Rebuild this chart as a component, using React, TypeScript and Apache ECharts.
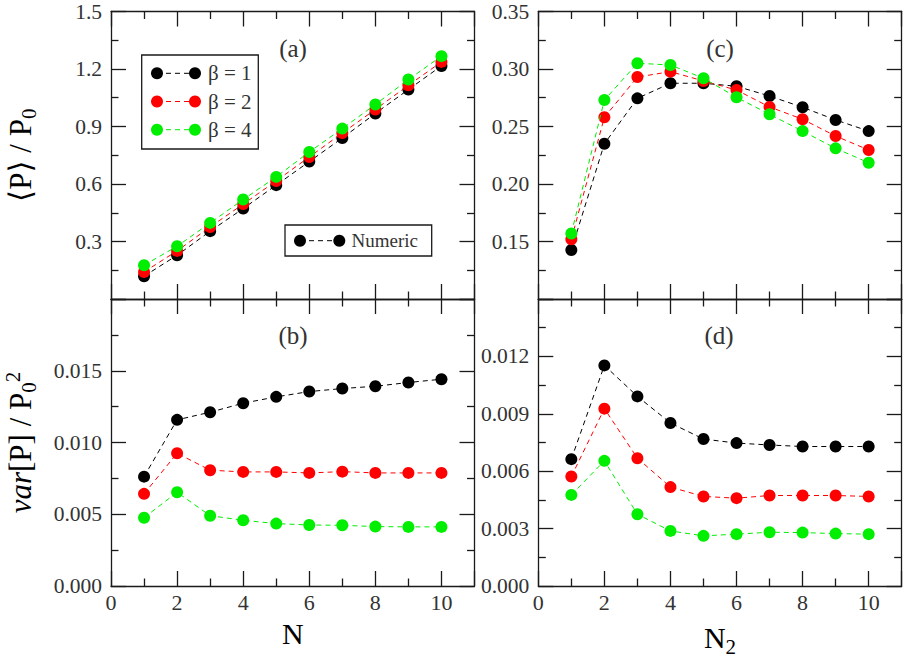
import React, { useEffect, useRef } from 'react';
import * as echarts from 'echarts';

const FONT = 'Liberation Serif, DejaVu Serif, serif';

// x values
const N = [1, 2, 3, 4, 5, 6, 7, 8, 9, 10];

// (a) <P>/P0 vs N
const meanB1 = [0.119, 0.228, 0.354, 0.472, 0.594, 0.717, 0.840, 0.968, 1.093, 1.216];
const meanB2 = [0.141, 0.251, 0.376, 0.495, 0.616, 0.741, 0.866, 0.989, 1.115, 1.237];
const meanB4 = [0.176, 0.275, 0.397, 0.519, 0.637, 0.767, 0.889, 1.015, 1.145, 1.267];

// (b) var[P]/P0^2 vs N
const varB1 = [0.00762, 0.01158, 0.01211, 0.01274, 0.01318, 0.01355, 0.01376, 0.01392, 0.01418, 0.01441];
const varB2 = [0.00642, 0.00925, 0.00807, 0.00795, 0.00795, 0.00788, 0.00797, 0.00788, 0.00788, 0.00788];
const varB4 = [0.00476, 0.00653, 0.00490, 0.00458, 0.00435, 0.00425, 0.00423, 0.00414, 0.00412, 0.00412];

// (c) <P>/P0 vs N2
const mean2B1 = [0.1426, 0.235, 0.2745, 0.2876, 0.2876, 0.285, 0.2765, 0.2667, 0.2557, 0.246];
const mean2B2 = [0.152, 0.258, 0.293, 0.2977, 0.2896, 0.2817, 0.267, 0.2563, 0.2417, 0.2296];
const mean2B4 = [0.157, 0.273, 0.305, 0.3035, 0.292, 0.2754, 0.2606, 0.246, 0.231, 0.2185];

// (d) var[P]/P0^2 vs N2
const var2B1 = [0.00663, 0.01153, 0.00991, 0.00852, 0.00768, 0.00747, 0.00737, 0.00729, 0.00729, 0.00729];
const var2B2 = [0.00572, 0.00927, 0.00668, 0.00517, 0.00468, 0.00459, 0.00473, 0.00473, 0.00473, 0.00468];
const var2B4 = [0.00476, 0.00654, 0.00375, 0.00288, 0.00262, 0.00271, 0.00281, 0.00279, 0.00274, 0.00271];

const betaLabels = ['β = 1', 'β = 2', 'β = 4'];
const colors = ['#000000', '#ff0000', '#00ee00'];
const panelLabels = ['(a)', '(b)', '(c)', '(d)'];

const AXIS_COLOR = '#1a1a1a';
const LABEL_COLOR = '#333';

const grids = [
  { left: 111, top: 11.5, width: 363.5, height: 287.5 },
  { left: 111, top: 299, width: 363.5, height: 287 },
  { left: 538.3, top: 11.5, width: 363.4, height: 287.5 },
  { left: 538.3, top: 299, width: 363.4, height: 287 },
];

const yRanges = [
  { min: 0, max: 1.5, interval: 0.3, dec: 1, hideMin: true },
  { min: 0, max: 0.02, interval: 0.005, dec: 3, hideMin: false },
  { min: 0.1, max: 0.35, interval: 0.05, dec: 2, hideMin: true },
  { min: 0, max: 0.015, interval: 0.003, dec: 3, hideMin: false },
];

const panelData = [
  [meanB1, meanB2, meanB4],
  [varB1, varB2, varB4],
  [mean2B1, mean2B2, mean2B4],
  [var2B1, var2B2, var2B4],
];

function buildOption() {
  const lineStyle = { color: AXIS_COLOR, width: 1.3 };
  const xAxis: any[] = [];
  const yAxis: any[] = [];
  grids.forEach((_, g) => {
    const showXLabels = g === 1 || g === 3;
    const baseX = {
      gridIndex: g,
      type: 'value',
      min: 0,
      max: 11,
      interval: 2,
      axisLine: { show: true, onZero: false, lineStyle },
      axisTick: { show: true, inside: true, length: 15, lineStyle },
      minorTick: { show: true, splitNumber: 2, length: 7.5, lineStyle },
      splitLine: { show: false },
      minorSplitLine: { show: false },
    };
    xAxis.push({
      ...baseX,
      position: 'bottom',
      axisLabel: {
        show: showXLabels,
        showMaxLabel: false,
        fontFamily: FONT,
        fontSize: 22,
        color: LABEL_COLOR,
        margin: 5,
      },
      name: g === 1 ? 'N' : g === 3 ? '{a|N}{sub|2}' : '',
      nameLocation: 'middle',
      nameGap: 32,
      nameTextStyle: {
        fontFamily: FONT,
        fontSize: 30,
        color: '#000',
        rich: {
          a: { fontFamily: FONT, fontSize: 30, color: '#000' },
          sub: { fontFamily: FONT, fontSize: 21, color: '#000', padding: [18, 0, 0, 0] },
        },
      },
    });
    xAxis.push({ ...baseX, position: 'top', axisLabel: { show: false } });

    const r = yRanges[g];
    const baseY = {
      gridIndex: g,
      type: 'value',
      min: r.min,
      max: r.max,
      interval: r.interval,
      axisLine: { show: true, onZero: false, lineStyle },
      axisTick: { show: true, inside: true, length: 15, lineStyle },
      minorTick: { show: true, splitNumber: 2, length: 7.5, lineStyle },
      splitLine: { show: false },
      minorSplitLine: { show: false },
    };
    let yName = '';
    if (g === 0) yName = '{a|⟨P⟩ / P}{sub|0}';
    if (g === 1) yName = '{it|var}{a|[P] / P}{sub|0}{sup|2}';
    yAxis.push({
      ...baseY,
      position: 'left',
      axisLabel: {
        show: true,
        showMinLabel: !r.hideMin,
        showMaxLabel: r.hideMin,
        fontFamily: FONT,
        fontSize: 21.5,
        color: LABEL_COLOR,
        margin: 9,
        formatter: (v: number) => v.toFixed(r.dec),
      },
      name: yName,
      nameLocation: 'middle',
      nameRotate: 90,
      nameGap: 72,
      nameTextStyle: {
        fontFamily: FONT,
        fontSize: 31,
        color: '#000',
        rich: {
          a: { fontFamily: FONT, fontSize: 31, color: '#000' },
          it: { fontFamily: FONT, fontSize: 31, fontStyle: 'italic', color: '#000' },
          sub: { fontFamily: FONT, fontSize: 21, color: '#000', padding: [16, 0, 0, 0] },
          sup: { fontFamily: FONT, fontSize: 21, color: '#000', padding: [0, 0, 16, 0] },
        },
      },
    });
    yAxis.push({ ...baseY, position: 'right', axisLabel: { show: false } });
  });

  const series: any[] = [];
  panelData.forEach((sets, g) => {
    sets.forEach((vals, k) => {
      series.push({
        type: 'line',
        name: betaLabels[k],
        xAxisIndex: 2 * g,
        yAxisIndex: 2 * g,
        data: N.map((x, i) => [x, vals[i]]),
        symbol: 'circle',
        symbolSize: 12,
        showSymbol: true,
        lineStyle: { color: colors[k], width: 1, type: [5, 4] },
        itemStyle: { color: colors[k] },
        z: 2 + k,
      });
    });
  });

  const graphic: any[] = [];
  // legend box
  graphic.push({
    type: 'rect',
    shape: { x: 141.7, y: 55, width: 116.6, height: 94 },
    style: { fill: '#fff', stroke: '#1a1a1a', lineWidth: 1.3 },
    z: 10,
  });
  const rowY = [73.3, 101.5, 129.7];
  betaLabels.forEach((lab, k) => {
    const y = rowY[k];
    graphic.push({
      type: 'line',
      shape: { x1: 157, y1: y, x2: 195, y2: y },
      style: { stroke: colors[k], lineWidth: 1, lineDash: [5, 4] },
      z: 11,
    });
    graphic.push({ type: 'circle', shape: { cx: 157, cy: y, r: 6 }, style: { fill: colors[k] }, z: 12 });
    graphic.push({ type: 'circle', shape: { cx: 195, cy: y, r: 6 }, style: { fill: colors[k] }, z: 12 });
    graphic.push({
      type: 'text',
      x: 208,
      y,
      style: { text: lab, fontFamily: FONT, fontSize: 21, fill: LABEL_COLOR, verticalAlign: 'middle', align: 'left' },
      z: 12,
    });
  });
  // numeric box
  graphic.push({
    type: 'rect',
    shape: { x: 285, y: 225, width: 146.7, height: 31 },
    style: { fill: '#fff', stroke: '#1a1a1a', lineWidth: 1.3 },
    z: 10,
  });
  graphic.push({
    type: 'line',
    shape: { x1: 300, y1: 240.7, x2: 339.3, y2: 240.7 },
    style: { stroke: '#000', lineWidth: 1, lineDash: [5, 4] },
    z: 11,
  });
  graphic.push({ type: 'circle', shape: { cx: 300, cy: 240.7, r: 6 }, style: { fill: '#000' }, z: 12 });
  graphic.push({ type: 'circle', shape: { cx: 339.3, cy: 240.7, r: 6 }, style: { fill: '#000' }, z: 12 });
  graphic.push({
    type: 'text',
    x: 351.5,
    y: 240.7,
    style: { text: 'Numeric', fontFamily: FONT, fontSize: 19, fill: LABEL_COLOR, verticalAlign: 'middle', align: 'left' },
    z: 12,
  });
  // panel labels
  const labPos = [
    [293, 48],
    [293, 335],
    [720, 48],
    [719, 335],
  ];
  panelLabels.forEach((t, i) => {
    graphic.push({
      type: 'text',
      x: labPos[i][0],
      y: labPos[i][1],
      style: { text: t, fontFamily: FONT, fontSize: 25, fill: LABEL_COLOR, align: 'center', verticalAlign: 'middle' },
      z: 12,
    });
  });

  return {
    animation: false,
    backgroundColor: '#fff',
    textStyle: { fontFamily: FONT },
    grid: grids.map((gr) => ({ ...gr, containLabel: false })),
    xAxis,
    yAxis,
    series,
    graphic,
  };
}

export default function App() {
  const ref = useRef<HTMLDivElement>(null);
  useEffect(() => {
    document.body.style.margin = '0';
    const chart = echarts.init(ref.current as HTMLDivElement, null, { renderer: 'svg' });
    chart.setOption(buildOption() as any);
    return () => {
      chart.dispose();
    };
  }, []);
  return <div ref={ref} style={{ width: 910, height: 661 }} />;
}
